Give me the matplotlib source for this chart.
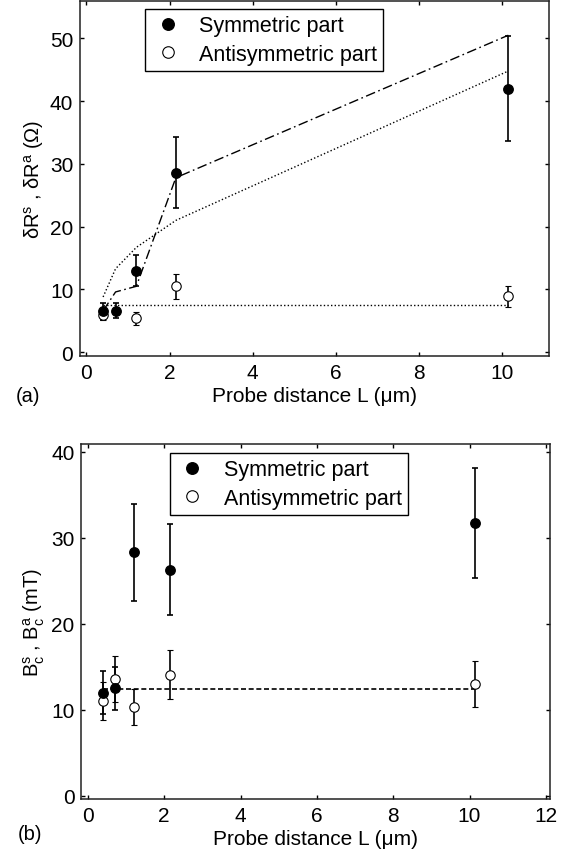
import matplotlib
matplotlib.use("Agg")
import matplotlib.pyplot as plt
from matplotlib.lines import Line2D

plt.rcParams['font.family'] = ['Liberation Sans', 'DejaVu Sans']
plt.rcParams['mathtext.fontset'] = 'custom'
plt.rcParams['mathtext.rm'] = 'Liberation Sans'
plt.rcParams['mathtext.it'] = 'Liberation Sans:italic'

# ---------------- data ----------------
L = [0.4, 0.7, 1.2, 2.15, 10.15]

# panel (a): delta R (Ohm)
dR_sym = [6.5, 6.6, 13.0, 28.6, 42.0]
dR_sym_err = [1.3, 1.2, 2.5, 5.7, 8.4]
L_anti_a = [0.4, 1.2, 2.15, 10.15]
dR_anti = [6.0, 5.4, 10.5, 8.9]
dR_anti_err = [0.9, 1.0, 2.0, 1.7]
fit_dashdot = [6.6, 9.6, 10.5, 27.8, 50.5]
fit_dotted = [8.8, 13.3, 16.7, 21.0, 44.8]
fit_flat_a = [7.6, 7.6]
L_flat = [0.4, 10.15]

# panel (b): Bc (mT)
Bc_sym = [12.0, 12.5, 28.3, 26.3, 31.7]
Bc_sym_err = [2.5, 2.5, 5.65, 5.25, 6.4]
Bc_anti = [11.0, 13.6, 10.3, 14.1, 13.0]
Bc_anti_err = [2.2, 2.7, 2.1, 2.85, 2.65]
fit_flat_b = [12.4, 12.4]

xticks_a = [0, 2, 4, 6, 8, 10]
yticks_a = [0, 10, 20, 30, 40, 50]
xticks_b = [0, 2, 4, 6, 8, 10, 12]
yticks_b = [0, 10, 20, 30, 40]

labels = ["Symmetric part", "Antisymmetric part"]

fig = plt.figure(figsize=(5.69, 8.54), dpi=100)
axa = fig.add_axes([0.141, 0.582, 0.824, 0.416])
axb = fig.add_axes([0.143, 0.063, 0.823, 0.416])

ms = 6.8
eb_kw = dict(ecolor='black', elinewidth=1.2, capsize=2.3, capthick=1.2, linestyle='none')

def style(ax):
    for s in ax.spines.values():
        s.set_linewidth(1.1)
        s.set_color('#222222')
    ax.tick_params(direction='in', length=3, width=1, top=True, right=True,
                   labelsize=15, pad=5)

def legend(ax, anchor):
    h = [Line2D([], [], marker='o', color='black', mfc='black', ls='none', ms=ms+1.5),
         Line2D([], [], marker='o', color='black', mfc='white', ls='none', ms=ms+1.5, mew=0.8)]
    lg = ax.legend(h, labels, loc='upper left', bbox_to_anchor=anchor, fontsize=15.5,
                   frameon=True, fancybox=False, edgecolor='black', framealpha=1,
                   borderpad=0.3, handletextpad=0.7, labelspacing=0.35,
                   handlelength=1.5, borderaxespad=0)
    lg.get_frame().set_linewidth(1.0)

# ---- panel (a)
axa.plot(L, fit_dashdot, color='black', lw=1.0, dashes=(7, 2.5, 1.2, 2.5))
axa.plot(L, fit_dotted, color='black', lw=1.0, dashes=(1, 1.6))
axa.plot(L_flat, fit_flat_a, color='black', lw=1.0, dashes=(1, 1.6))
axa.errorbar(L_anti_a, dR_anti, yerr=dR_anti_err, marker='o', mfc='white', mec='black',
             mew=0.8, ms=ms, **eb_kw)
axa.errorbar(L, dR_sym, yerr=dR_sym_err, marker='o', mfc='black', mec='black',
             ms=ms, **eb_kw)
axa.set_xlim(-0.15, 11.13)
axa.set_ylim(-0.6, 56)
axa.set_xticks(xticks_a)
axa.set_yticks(yticks_a)
axa.set_xlabel('Probe distance L (\u03bcm)', fontsize=15, labelpad=3)
axa.set_ylabel('\u03b4R$^{\\mathrm{s}}$ , \u03b4R$^{\\mathrm{a}}$ (\u03a9)', fontsize=14.5, labelpad=3)
style(axa)
legend(axa, (0.138, 0.977))

# ---- panel (b)
axb.plot(L_flat, fit_flat_b, color='black', lw=1.2, dashes=(3, 1.6))
axb.errorbar(L, Bc_anti, yerr=Bc_anti_err, marker='o', mfc='white', mec='black',
             mew=0.8, ms=ms, **eb_kw)
axb.errorbar(L, Bc_sym, yerr=Bc_sym_err, marker='o', mfc='black', mec='black',
             ms=ms, **eb_kw)
axb.set_xlim(-0.17, 12.1)
axb.set_ylim(-0.38, 40.9)
axb.set_xticks(xticks_b)
axb.set_yticks(yticks_b)
axb.set_xlabel('Probe distance L (\u03bcm)', fontsize=15, labelpad=3)
axb.set_ylabel('B$_{\\mathrm{c}}^{\\mathrm{s}}$ , B$_{\\mathrm{c}}^{\\mathrm{a}}$ (mT)', fontsize=14.5, labelpad=3)
style(axb)
legend(axb, (0.189, 0.975))

fig.text(28 / 569, 1 - 397 / 854, '(a)', fontsize=14.5, ha='center', va='center')
fig.text(30 / 569, 1 - 835 / 854, '(b)', fontsize=14.5, ha='center', va='center')

fig.savefig('out.png', dpi=100)
